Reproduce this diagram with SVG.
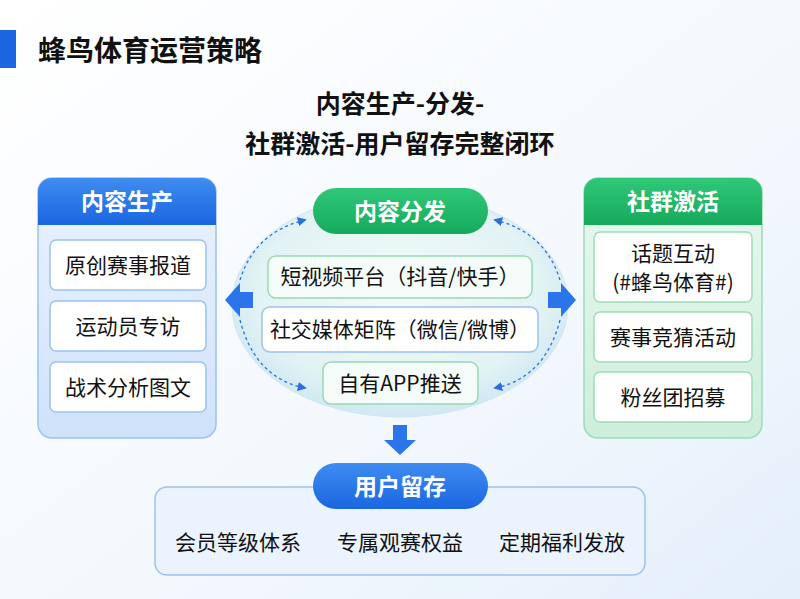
<svg xmlns="http://www.w3.org/2000/svg" width="800" height="599" viewBox="0 0 800 599">
<defs>
<linearGradient id="bg" x1="0" y1="0" x2="1" y2="1"><stop offset="0" stop-color="#ffffff"/><stop offset="0.6" stop-color="#f3f8fd"/><stop offset="1" stop-color="#e4effb"/></linearGradient>
<linearGradient id="bp" x1="0" y1="0" x2="0" y2="1"><stop offset="0" stop-color="#eaf3fe"/><stop offset="1" stop-color="#cfe2fb"/></linearGradient>
<linearGradient id="gp" x1="0" y1="0" x2="0" y2="1"><stop offset="0" stop-color="#e8f8ef"/><stop offset="1" stop-color="#cdeedb"/></linearGradient>
<radialGradient id="el" cx="0.5" cy="0.45" r="0.6"><stop offset="0" stop-color="#f4fbf9"/><stop offset="0.7" stop-color="#e2f3f3"/><stop offset="1" stop-color="#c9e4f4"/></radialGradient>
<linearGradient id="bh" x1="0" y1="0" x2="0" y2="1"><stop offset="0" stop-color="#3f8cf2"/><stop offset="1" stop-color="#1a66e0"/></linearGradient>
<linearGradient id="gh" x1="0" y1="0" x2="0" y2="1"><stop offset="0" stop-color="#2fc878"/><stop offset="1" stop-color="#16a95c"/></linearGradient>
<marker id="ah" viewBox="0 0 10 10" refX="8" refY="5" markerWidth="7" markerHeight="7" orient="auto"><path d="M0,0L10,5L0,10z" fill="#2a6fe0"/></marker>
</defs>
<style>
text{font-family:"Noto Sans CJK SC","Noto Sans",sans-serif;text-anchor:middle}
.t{fill:#111;font-size:21px}
.h{fill:#fff;font-size:23px;font-weight:bold}
.bi{fill:#fff;stroke:#9cc2ef;stroke-width:1.5}
.gi{fill:#fff;stroke:#9fdcb8;stroke-width:1.5}
.ci{fill:#f4fbf8;stroke:#98d9b4;stroke-width:1.5}
.d{fill:none;stroke:#2a6fe0;stroke-width:1.3;stroke-dasharray:3 3;marker-end:url(#ah)}
.ba{fill:#2a75ea}
</style>
<rect width="800" height="599" fill="url(#bg)"/>
<rect x="0" y="30" width="16" height="38" fill="#1a66e0"/>
<text x="38" y="61" style="text-anchor:start;font-size:28px;font-weight:bold;fill:#111">蜂鸟体育运营策略</text>
<text x="400" y="113" style="font-size:25px;font-weight:bold;fill:#111">内容生产-分发-</text>
<text x="400" y="153" style="font-size:25px;font-weight:bold;fill:#111">社群激活-用户留存完整闭环</text>

<g id="center">
<ellipse cx="400" cy="305" rx="168" ry="112" fill="url(#el)" stroke="#cfe6f5"/>
<rect x="313" y="188" width="175" height="46" rx="23" fill="url(#gh)"/>
<text class="h" x="400" y="220">内容分发</text>
<rect class="ci" x="268" y="256" width="264" height="42" rx="8"/>
<text class="t" x="400" y="284">短视频平台（抖音/快手）</text>
<rect class="bi" x="262" y="307" width="276" height="45" rx="8"/>
<text class="t" x="400" y="337">社交媒体矩阵（微信/微博）</text>
<rect class="ci" x="323" y="362" width="155" height="42" rx="8"/>
<text class="t" x="400" y="391">自有APP推送</text>
</g>

<g id="left">
<rect x="38" y="178" width="178" height="260" rx="14" fill="url(#bp)" stroke="#9cc2ef" stroke-width="1.5"/>
<path d="M38,225V192a14,14 0 0 1 14,-14H202a14,14 0 0 1 14,14V225z" fill="url(#bh)"/>
<text class="h" x="127" y="210">内容生产</text>
<rect class="bi" x="50" y="240" width="156" height="50" rx="6"/><text class="t" x="128" y="273">原创赛事报道</text>
<rect class="bi" x="50" y="301" width="156" height="50" rx="6"/><text class="t" x="128" y="334">运动员专访</text>
<rect class="bi" x="50" y="362" width="156" height="50" rx="6"/><text class="t" x="128" y="395">战术分析图文</text>
</g>

<g id="right">
<rect x="584" y="178" width="178" height="260" rx="14" fill="url(#gp)" stroke="#9fdcb8" stroke-width="1.5"/>
<path d="M584,225V192a14,14 0 0 1 14,-14H748a14,14 0 0 1 14,14V225z" fill="url(#gh)"/>
<text class="h" x="673" y="210">社群激活</text>
<rect class="gi" x="594" y="232" width="158" height="70" rx="6"/><text class="t" x="673" y="261">话题互动</text><text class="t" x="673" y="290">(#蜂鸟体育#)</text>
<rect class="gi" x="594" y="312" width="158" height="50" rx="6"/><text class="t" x="673" y="345">赛事竞猜活动</text>
<rect class="gi" x="594" y="372" width="158" height="50" rx="6"/><text class="t" x="673" y="405">粉丝团招募</text>
</g>

<g id="bottom">
<rect x="155" y="487" width="490" height="88" rx="12" fill="#eaf3fe" stroke="#9cc2ef" stroke-width="1.5"/>
<rect x="313" y="463" width="175" height="46" rx="23" fill="url(#bh)"/>
<text class="h" x="400" y="495">用户留存</text>
<text class="t" x="238" y="550">会员等级体系</text>
<text class="t" x="400" y="550">专属观赛权益</text>
<text class="t" x="562" y="550">定期福利发放</text>
</g>

<g id="connectors">
<path class="d" d="M240,280 Q255,232 305,220"/>
<path class="d" d="M240,320 Q255,378 305,388"/>
<path class="d" d="M560,280 Q545,232 495,220"/>
<path class="d" d="M560,320 Q545,378 495,388"/>
<path class="ba" d="M253,292H240V283L225,300L240,317V308H253z"/>
<path class="ba" d="M548,292H561V283L576,300L561,317V308H548z"/>
<path class="ba" d="M393,425H407V440H416L400,455L384,440H393z"/>
</g>
</svg>
